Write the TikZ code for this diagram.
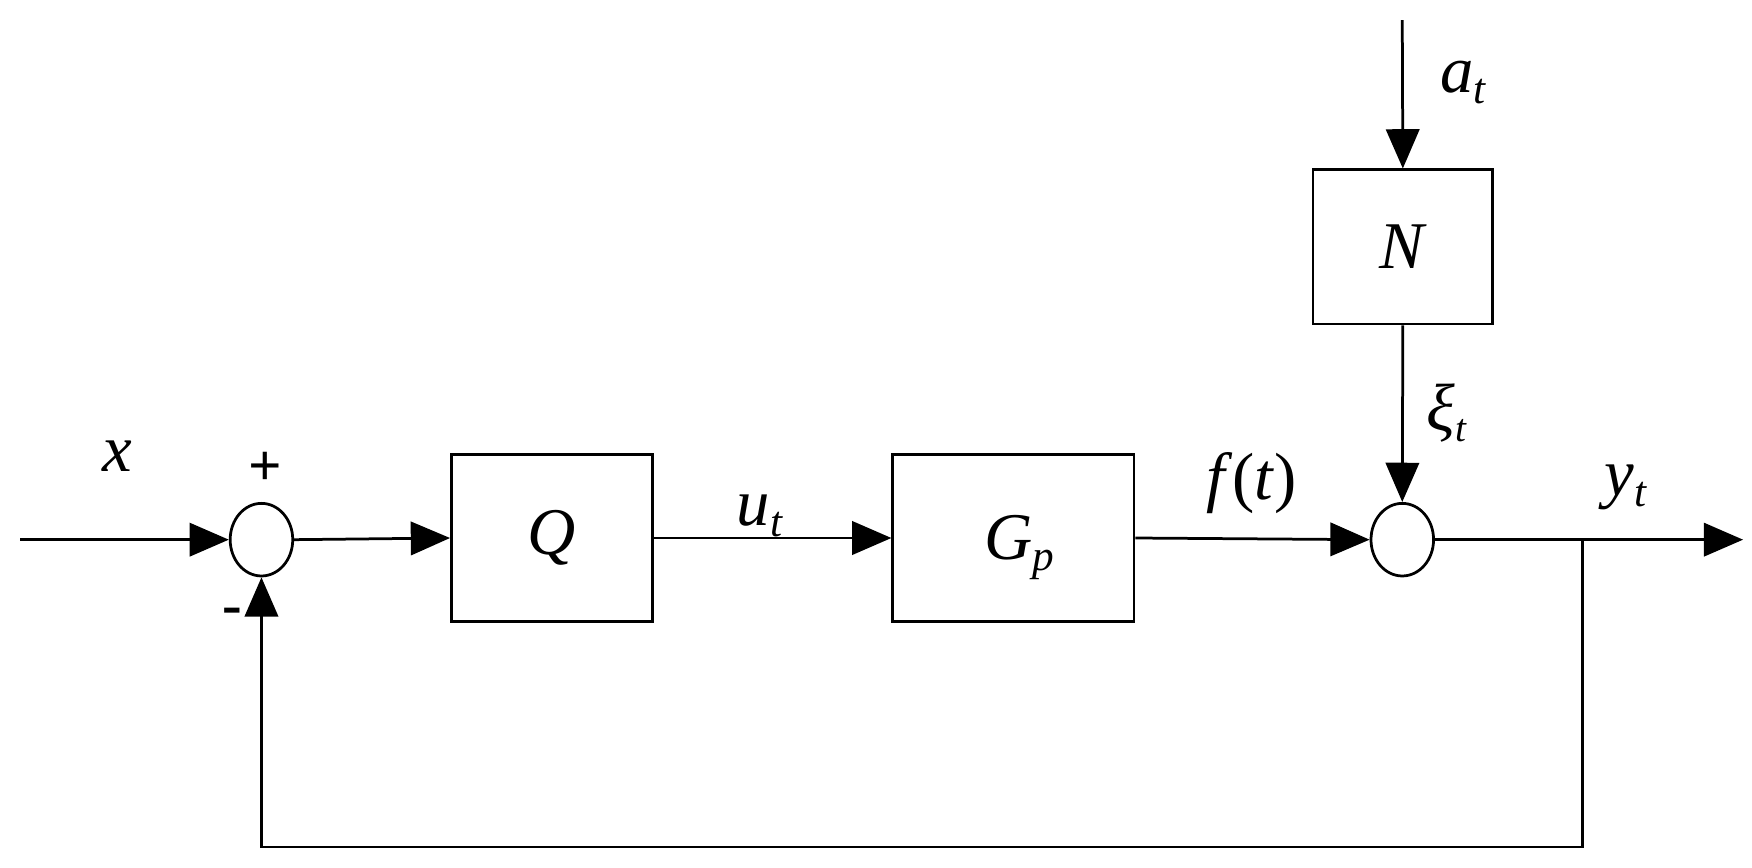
\documentclass[tikz,border=0pt]{standalone}
\usepackage{fontspec}
\setmainfont{Liberation Serif}
\usetikzlibrary{arrows.meta,shapes.geometric}
\newcommand{\sbs}[2]{\textit{#1}\raisebox{-0.35ex}{\fontsize{22}{24}\selectfont\textit{#2}}}
\begin{document}
\begin{tikzpicture}[x=0.02cm,y=-0.02cm,line width=1.4pt,
  blk/.style={draw,minimum width=0pt,inner sep=0pt},
  sumj/.style={draw,ellipse,minimum width=56\pgflinewidth/1.4*0.02cm/0.02cm,inner sep=0pt},
  arr/.style={-{Triangle[length=20pt,width=17pt]}},
  lbl/.style={font=\fontsize{34}{38}\selectfont}]
\useasboundingbox (0,0) rectangle (1568,776);
\fill[white] (0,0) rectangle (1568,776);
\node[draw,ellipse,minimum width=1.12cm,minimum height=1.3cm,inner sep=0pt] (s1) at (234,483) {};
\node[draw,ellipse,minimum width=1.12cm,minimum height=1.3cm,inner sep=0pt] (s2) at (1255,483) {};
\node[draw,minimum width=3.6cm,minimum height=2.98cm] (q) at (494,481.5) {};
\node[draw,minimum width=4.32cm,minimum height=2.98cm] (g) at (907,481.5) {};
\node[draw,minimum width=3.22cm,minimum height=2.76cm] (n) at (1255.5,221) {};
\coordinate (in) at (18,483);
\coordinate (top) at (1255,18);
\coordinate (out) at (1560,483);
\coordinate (br) at (1416,483);
\coordinate (c1) at (1416,758);
\coordinate (c2) at (234,758);
\draw[arr] (in) -- (s1.west);
\draw[arr] (s1.east) -- (q.west);
\draw[arr] (q.east) -- (g.west);
\draw[arr] (g.east) -- (s2.west);
\draw[arr] (s2.east) -- (out);
\draw[arr] (top) -- (n.north);
\draw[arr] (n.south) -- (s2.north);
\draw[arr] (br) -- (c1) -- (c2) -- (s1.south);
\node[lbl] (tq) at (q) {\textit{Q}};
\node[lbl] (tg) at (912,490) {\sbs{G}{p}};
\node[lbl] (tn) at (n) {\textit{N}};
\node[lbl] (tx) at (105,408) {\textit{x}};
\node[font=\fontsize{30}{34}\selectfont\bfseries] (tp) at (237,420) {+};
\node[font=\fontsize{30}{34}\selectfont\bfseries] (tm) at (208,552) {-};
\node[lbl] (tu) at (680,462) {\sbs{u}{t}};
\node[lbl] (tf) at (1120,432) {\textit{f}(\textit{t})};
\node[lbl] (ty) at (1455,436) {\sbs{y}{t}};
\node[lbl] (ta) at (1310,74) {\sbs{a}{t}};
\node[lbl] (tz) at (1295,370) {\textit{ξ}\raisebox{-0.35ex}{\fontsize{20}{22}\selectfont\textit{t}}};
\end{tikzpicture}
\end{document}
